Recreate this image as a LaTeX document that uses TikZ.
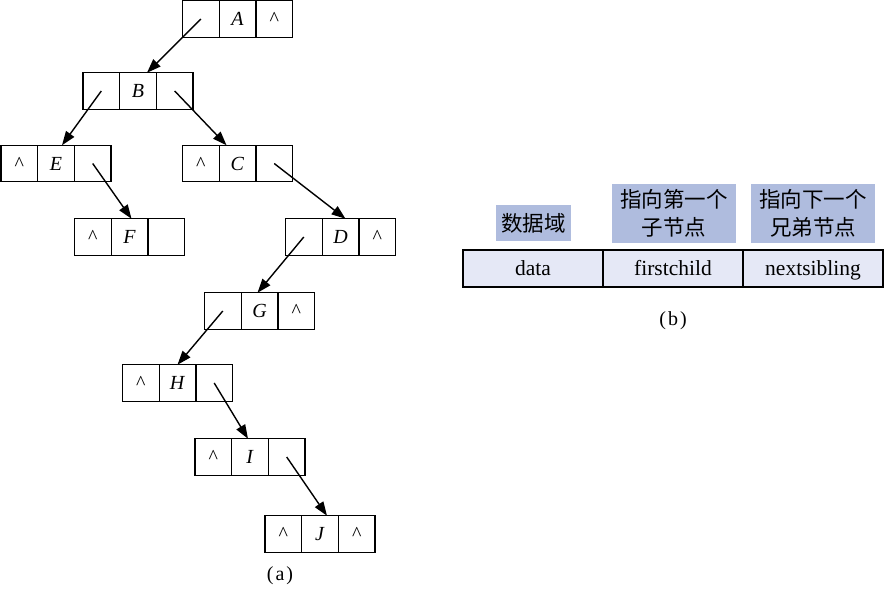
\documentclass[tikz,border=0pt]{standalone}
\usepackage{fontspec}
\setmainfont{Liberation Serif}
\newfontfamily\cjk{Noto Sans CJK SC}
\usepackage{xcolor}
\definecolor{LabelBlue}{RGB}{175,188,222}
\definecolor{FieldBg}{RGB}{229,232,246}
\usepackage{tikz}
\usetikzlibrary{math,positioning,arrows.meta}
\tikzset{%
  cell/.style={draw, line width=1.3pt, outer sep=0pt, inner sep=0pt,
    minimum width=36.7pt, minimum height=36.5pt, font=\fontsize{20}{20}\selectfont},
  link/.style={line width=1.4pt, -{Triangle[length=14pt,width=10pt]}},
  field/.style={draw, line width=1.3pt, outer sep=0pt, fill=FieldBg,
    minimum width=140pt, minimum height=37pt, text height=16pt, text depth=3pt,
    font=\fontsize{21.5}{21.5}\selectfont},
  tag/.style={fill=LabelBlue, align=center, inner sep=0pt,
    font=\cjk\fontsize{21.5}{28}\selectfont},
  caption/.style={font=\fontsize{20}{20}\selectfont}
}
\newcommand*{\nullp}{\textasciicircum}
\newcommand*{\listnode}[6]{% name, x, y, left, data, right
  \node[cell] (#1-d) at (#2,#3) {\textit{#5}};
  \node[cell, left=0pt of #1-d] (#1-l) {#4};
  \node[cell, right=0pt of #1-d] (#1-r) {#6};
}

\begin{document}
\begin{tikzpicture}[x=1pt,y=-1pt]
    \useasboundingbox (0,0) rectangle (884,592);
    % (a) child-sibling list
    \listnode{A}{237.5}{19}{}{A}{\nullp}
    \listnode{B}{138}{91}{}{B}{}
    \listnode{E}{56}{163.5}{\nullp}{E}{}
    \listnode{C}{237.5}{163.5}{\nullp}{C}{}
    \listnode{F}{129.5}{237}{\nullp}{F}{}
    \listnode{D}{340.5}{237}{}{D}{\nullp}
    \listnode{G}{259.5}{311}{}{G}{\nullp}
    \listnode{H}{177.5}{383}{\nullp}{H}{}
    \listnode{I}{250}{457}{\nullp}{I}{}
    \listnode{J}{320}{534}{\nullp}{J}{\nullp}
    \foreach \a/\b/\s in {A-l/B/9, B-l/E/6, B-r/C/-11, E-r/F/2, C-r/D/5,
      D-l/G/-2, G-l/H/0, H-r/I/-2, I-r/J/7} {
      \draw[link] (\a.center) -- ([xshift=\s pt]\b-d.north);
    }
    \node[caption] (capa) at (280,576) {(\kern2pt a\kern2pt)};
    % (b) node layout
    \node[field] (data) at (533,268.5) {data};
    \node[field, right=0pt of data] (first) {firstchild};
    \node[field, right=0pt of first] (next) {nextsibling};
    \node[tag, minimum width=75pt, minimum height=36pt] (tdata) at (533.5,223) {数据域};
    \node[tag, minimum width=124pt, minimum height=59pt] (tfirst) at (674,213.5) {指向第一个\\子节点};
    \node[tag, minimum width=124pt, minimum height=59pt] (tnext) at (813,213.5) {指向下一个\\兄弟节点};
    \node[caption] (capb) at (673,321) {(\kern2pt b\kern2pt)};
  \end{tikzpicture}
\end{document}
